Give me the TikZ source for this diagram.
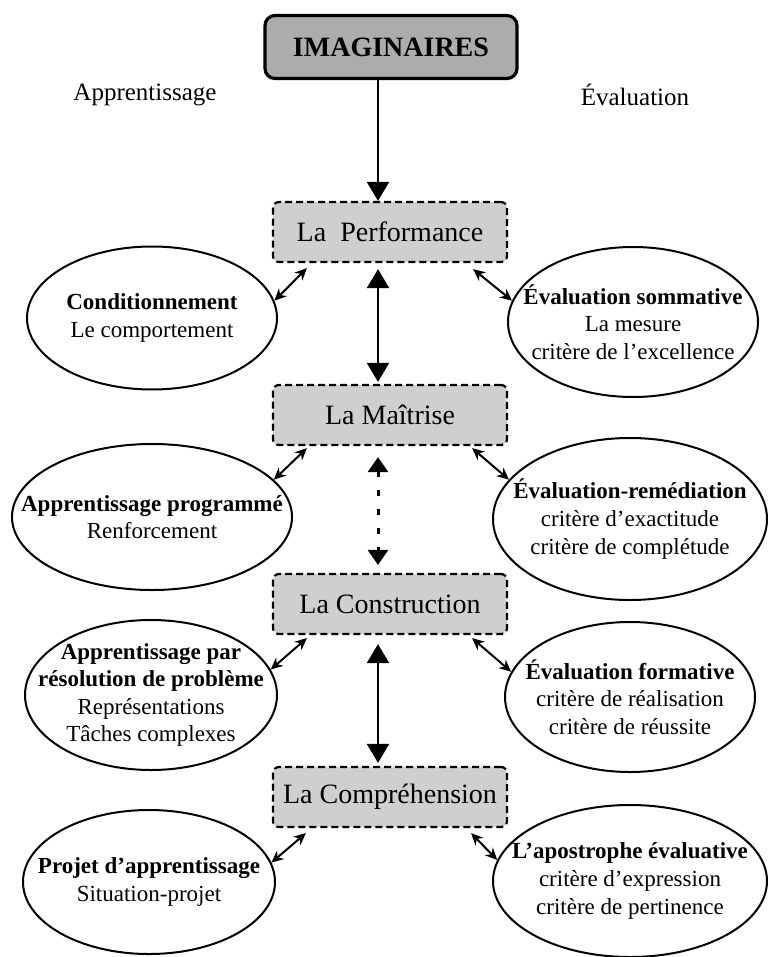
\documentclass[tikz,border=0pt]{standalone}
\usepackage{fontspec}
\setmainfont{Liberation Serif}
\usetikzlibrary{arrows.meta, shapes.geometric, calc}
\tikzset{
  topbox/.style={draw, line width=1.6pt, rounded corners=5pt, fill=gray!65,
    minimum width=126pt, minimum height=31.5pt, font=\fontsize{14}{16}\selectfont\bfseries},
  head/.style={font=\fontsize{12.5}{15}\selectfont},
  stage/.style={draw, dash pattern=on 3.5pt off 2pt, line width=1.1pt, rounded corners=3pt,
    fill=gray!38, minimum width=117pt, minimum height=30pt, font=\fontsize{14}{16}\selectfont},
  oval/.style={draw, ellipse, line width=1pt, inner sep=0pt},
  ovaltext/.style={align=center, font=\fontsize{11.5}{13.8}\selectfont},
  link/.style={line width=1pt, {Stealth[length=6pt,width=5.5pt]}-{Stealth[length=6pt,width=5.5pt]}},
  bigone/.style={line width=1.1pt, -{Triangle[length=9.5pt,width=11pt]}},
  bigboth/.style={line width=1.1pt, {Triangle[length=9.5pt,width=11pt]}-{Triangle[length=9.5pt,width=11pt]}},
  dotboth/.style={line width=1.5pt, dash pattern=on 3pt off 6.5pt,
    {Triangle[length=7.5pt,width=10pt]}-{Triangle[length=7.5pt,width=10pt]}}
}
\begin{document}
\begin{tikzpicture}[x=0.5pt, y=-0.5pt]
\useasboundingbox (0,0) rectangle (767,957);

\node[topbox] (imag) at (391,47) {IMAGINAIRES};
\node[head] (appr) at (145,95) {Apprentissage};
\node[head] (eval) at (635,95) {Évaluation};

\node[stage] (perf) at (390,232) {La~ Performance};
\node[stage] (maitr) at (390,415) {La Maîtrise};
\node[stage] (constr) at (390,604) {La Construction};
\node[stage] (compr) at (390,797) {La Compréhension};
\coordinate (axis) at (378,0);

\node[oval, minimum width=125pt, minimum height=71.5pt] (cond) at (152,318) {};
\node[ovaltext] (cond-t) at (cond) {\textbf{Conditionnement}\\Le comportement};
\node[oval, minimum width=125pt, minimum height=75pt] (evsom) at (633,322) {};
\node[ovaltext] (evsom-t) at (evsom) {\textbf{Évaluation sommative}\\La mesure\\critère de l’excellence};

\node[oval, minimum width=140pt, minimum height=73pt] (prog) at (152,517) {};
\node[ovaltext] (prog-t) at (prog) {\textbf{Apprentissage programmé}\\Renforcement};
\node[oval, minimum width=137pt, minimum height=81pt] (remed) at (630,519) {};
\node[ovaltext] (remed-t) at (remed) {\textbf{Évaluation-remédiation}\\critère d’exactitude\\critère de complétude};

\node[oval, minimum width=126pt, minimum height=75pt] (resol) at (151,695) {};
\node[ovaltext] (resol-t) at (resol) {\textbf{Apprentissage par}\\\textbf{résolution de problème}\\Représentations\\Tâches complexes};
\node[oval, minimum width=125pt, minimum height=75pt] (form) at (630,697) {};
\node[ovaltext] (form-t) at (form) {\textbf{Évaluation formative}\\critère de réalisation\\critère de réussite};

\node[oval, minimum width=126pt, minimum height=72pt] (proj) at (149,882) {};
\node[ovaltext] (proj-t) at (proj) {\textbf{Projet d’apprentissage}\\Situation-projet};
\node[oval, minimum width=137pt, minimum height=76pt] (apos) at (630,881) {};
\node[ovaltext] (apos-t) at (apos) {\textbf{L’apostrophe évaluative}\\critère d’expression\\critère de pertinence};

\draw[bigone] (imag.south -| axis) -- (perf.north -| axis);
\draw[bigboth, shorten <=3pt, shorten >=1pt] (perf.south -| axis) -- (maitr.north -| axis);
\draw[dotboth, shorten <=5.5pt, shorten >=4pt] (maitr.south -| axis) -- (constr.north -| axis);
\draw[bigboth, shorten <=4.5pt, shorten >=1.5pt] (constr.south -| axis) -- (compr.north -| axis);

\draw[link] ([xshift=17.5pt,yshift=-2.5pt]perf.south west) -- (cond.8);
\draw[link] ([xshift=-17.5pt,yshift=-3pt]perf.south east) -- (evsom.170);
\draw[link] ([xshift=17.5pt,yshift=-1pt]maitr.south west) -- (prog.17);
\draw[link] ([xshift=-18pt,yshift=-1pt]maitr.south east) -- (remed.162);
\draw[link] ([xshift=17.5pt,yshift=-1.5pt]constr.south west) -- (resol.12);
\draw[link] ([xshift=-18pt,yshift=-1.5pt]constr.south east) -- (form.168);
\draw[link] ([xshift=17pt,yshift=-2.5pt]compr.south west) -- (proj.9);
\draw[link] ([xshift=-18.5pt,yshift=-2.5pt]compr.south east) -- (apos.171);
\end{tikzpicture}
\end{document}
